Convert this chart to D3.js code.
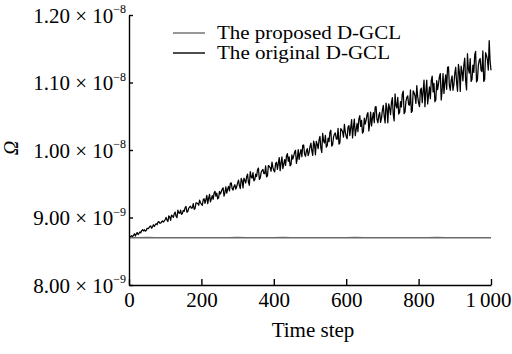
<!DOCTYPE html>
<html>
<head>
<meta charset="utf-8">
<script src="https://cdn.jsdelivr.net/npm/d3@7"></script>
<style>
  body { margin: 0; background: #fff; }
  svg text { font-family: "Liberation Serif", "DejaVu Serif", serif; fill: #000; }
</style>
</head>
<body>
<div id="chart"></div>
<script>
// DATA (values in units of 1e-9)
// original D-GCL, sampled at steps 0, 5, 10, ... 1000
const stepSize = 5
const originalValues = [
  8.700,
  8.721, 8.714, 8.759, 8.754, 8.748, 8.785, 8.806, 8.801, 8.798, 8.841, 8.848, 8.875, 8.862, 8.869, 8.909, 8.932, 8.917, 8.936, 8.933, 8.970,
  8.961, 9.024, 8.956, 9.023, 9.055, 9.018, 9.108, 9.062, 9.048, 9.107, 9.147, 9.078, 9.137, 9.168, 9.141, 9.122, 9.217, 9.207, 9.256, 9.197,
  9.263, 9.211, 9.328, 9.283, 9.231, 9.323, 9.362, 9.316, 9.277, 9.388, 9.381, 9.440, 9.368, 9.361, 9.460, 9.506, 9.427, 9.460, 9.421, 9.512,
  9.473, 9.580, 9.440, 9.555, 9.603, 9.522, 9.680, 9.582, 9.544, 9.643, 9.707, 9.566, 9.665, 9.712, 9.649, 9.602, 9.769, 9.739, 9.820, 9.697,
  9.801, 9.714, 9.887, 9.810, 9.724, 9.857, 9.910, 9.833, 9.766, 9.929, 9.912, 9.995, 9.878, 9.861, 10.005, 10.068, 9.941, 9.984, 9.917, 10.050,
  9.987, 10.132, 9.929, 10.086, 10.148, 10.029, 10.246, 10.103, 10.044, 10.177, 10.262, 10.059, 10.192, 10.253, 10.159, 10.088, 10.317, 10.270, 10.379, 10.200,
  10.341, 10.214, 10.451, 10.338, 10.212, 10.393, 10.462, 10.349, 10.250, 10.473, 10.444, 10.555, 10.386, 10.357, 10.553, 10.636, 10.453, 10.508, 10.409, 10.590,
  10.496, 10.696, 10.403, 10.620, 10.702, 10.528, 10.830, 10.622, 10.533, 10.716, 10.831, 10.538, 10.721, 10.802, 10.663, 10.557, 10.876, 10.804, 10.953, 10.694,
  10.889, 10.702, 11.035, 10.868, 10.682, 10.935, 11.028, 10.861, 10.714, 11.027, 10.980, 11.133, 10.886, 10.839, 11.113, 11.226, 10.959, 11.032, 10.885, 11.138,
  11.002, 11.268, 10.867, 11.156, 11.262, 11.022, 11.426, 11.140, 11.015, 11.258, 11.409, 11.008, 11.251, 11.356, 11.163, 11.015, 11.442, 11.340, 11.620, 11.182
]
// original D-GCL, in-between samples at steps 2.5, 7.5, ... 997.5
const originalMidValues = [
  8.703, 8.730, 8.737, 8.726, 8.777, 8.766, 8.773, 8.818, 8.819, 8.807, 8.834, 8.865, 8.842, 8.893, 8.892, 8.893, 8.938, 8.915, 8.948, 8.948,
  9.001, 8.941, 9.009, 9.035, 9.003, 9.079, 8.997, 9.069, 9.109, 9.060, 9.091, 9.163, 9.090, 9.157, 9.138, 9.206, 9.133, 9.214, 9.181, 9.218,
  9.179, 9.277, 9.270, 9.205, 9.342, 9.276, 9.270, 9.387, 9.361, 9.290, 9.349, 9.421, 9.316, 9.453, 9.421, 9.394, 9.512, 9.407, 9.486, 9.454,
  9.553, 9.429, 9.545, 9.583, 9.511, 9.643, 9.477, 9.601, 9.665, 9.560, 9.607, 9.731, 9.582, 9.697, 9.650, 9.766, 9.617, 9.758, 9.685, 9.742,
  9.675, 9.818, 9.801, 9.694, 9.897, 9.790, 9.773, 9.946, 9.899, 9.783, 9.866, 9.969, 9.802, 10.005, 9.948, 9.901, 10.074, 9.907, 10.020, 9.964,
  10.101, 9.922, 10.079, 10.128, 10.021, 10.202, 9.963, 10.132, 10.217, 10.063, 10.124, 10.293, 10.078, 10.235, 10.164, 10.321, 10.106, 10.299, 10.192, 10.266,
  10.167, 10.362, 10.333, 10.178, 10.457, 10.302, 10.273, 10.510, 10.439, 10.271, 10.382, 10.521, 10.282, 10.561, 10.476, 10.405, 10.642, 10.403, 10.556, 10.472,
  10.660, 10.401, 10.618, 10.682, 10.525, 10.776, 10.432, 10.666, 10.781, 10.557, 10.638, 10.872, 10.562, 10.779, 10.673, 10.890, 10.580, 10.848, 10.691, 10.790,
  10.643, 10.916, 10.869, 10.642, 11.035, 10.808, 10.761, 11.094, 10.987, 10.741, 10.894, 11.087, 10.740, 11.133, 11.006, 10.899, 11.232, 10.885, 11.098, 10.972,
  11.226, 10.871, 11.160, 11.242, 11.025, 11.360, 10.890, 11.202, 11.353, 11.045, 11.150, 11.462, 11.038, 11.327, 11.179, 11.468, 11.044, 11.402, 11.185, 11.314
]
// proposed D-GCL, sampled at steps 0, 25, ... 1000
const proposedStep = 25
const proposedValues = [
  8.70, 8.70, 8.702, 8.70, 8.70, 8.70, 8.701, 8.70, 8.70, 8.70, 8.70, 8.70, 8.702, 8.70, 8.70, 8.70, 8.70, 8.702, 8.70, 8.70, 8.70,
  8.701, 8.70, 8.70, 8.70, 8.702, 8.70, 8.70, 8.70, 8.701, 8.70, 8.70, 8.70, 8.70, 8.702, 8.70, 8.70, 8.701, 8.70, 8.70, 8.70
]
const xTicks = [0, 200, 400, 600, 800, 1000]
const xTickLabels = ["0", "200", "400", "600", "800", "1\u2009000"]
const yTicks = [8.0, 9.0, 10.0, 11.0, 12.0]
const yTickLabels = [["8.00", "−9"], ["9.00", "−9"], ["1.00", "−8"], ["1.10", "−8"], ["1.20", "−8"]]
const seriesNames = ["The proposed D-GCL", "The original D-GCL"]
const seriesColors = ["#6a6a6a", "#000000"]

const W = 512, H = 354
const margin = {top: 15, right: 21, bottom: 69, left: 129}
const width = W - margin.left - margin.right
const height = H - margin.top - margin.bottom

const svg = d3.select("#chart").append("svg")
    .attr("width", W)
    .attr("height", H)

const g = svg.append("g")
    .attr("transform", `translate(${margin.left},${margin.top})`)

// SCALES
const xScale = d3.scaleLinear().domain([0, 1000]).range([0, width])
const yScale = d3.scaleLinear().domain([8.0, 12.0]).range([height, 0])

// LINES
const line = d3.line()
    .x(d => xScale(d[0]))
    .y(d => yScale(d[1]))

const proposedData = proposedValues.map((v, i) => [i * proposedStep, v])
const originalData = originalValues.map((v, i) => [i * stepSize, v])
    .concat(originalMidValues.map((v, i) => [i * stepSize + stepSize / 2, v]))
    .sort((a, b) => a[0] - b[0])

g.append("path")
    .datum(originalData)
    .attr("d", line)
    .attr("fill", "none")
    .attr("stroke", seriesColors[1])
    .attr("stroke-width", 1.25)
    .attr("stroke-linejoin", "round")

g.append("path")
    .datum(proposedData)
    .attr("d", line)
    .attr("fill", "none")
    .attr("stroke", seriesColors[0])
    .attr("stroke-width", 1.6)

// AXES
const xAxis = d3.axisBottom(xScale)
    .tickValues(xTicks)
    .tickSizeInner(-6)
    .tickSizeOuter(0)
    .tickPadding(7)
    .tickFormat((d, i) => xTickLabels[i])

const yAxis = d3.axisLeft(yScale)
    .tickValues(yTicks)
    .tickSizeInner(-4)
    .tickSizeOuter(0)
    .tickFormat("")

const gx = g.append("g")
    .attr("transform", `translate(0,${height})`)
    .call(xAxis)
gx.selectAll("text")
    .attr("font-size", 21)
    .attr("font-family", "Liberation Serif")
    .attr("fill", "#000")
    .attr("dx", (d, i) => i === xTicks.length - 1 ? -3 : 0)

const gy = g.append("g").call(yAxis)
gy.selectAll(".tick text")
    .attr("font-size", 21)
    .attr("font-family", "Liberation Serif")
    .attr("fill", "#000")
    .attr("dy", "0.35em")
    .attr("x", -3)
    .each(function(d, i) {
        const t = d3.select(this)
        t.append("tspan").text(yTickLabels[i][0] + " × 10")
        t.append("tspan")
            .attr("font-size", 12)
            .attr("dy", "-0.8em")
            .text(yTickLabels[i][1])
    })

g.selectAll(".domain").attr("stroke", "#000").attr("stroke-width", 1.4)
g.selectAll(".tick line").attr("stroke", "#000").attr("stroke-width", 1.4)

// AXIS TITLES
svg.append("text")
    .attr("x", margin.left + xScale(500) + 3)
    .attr("y", 337)
    .attr("text-anchor", "middle")
    .attr("font-size", 21)
    .text("Time step")

svg.append("text")
    .attr("transform", `translate(18,${margin.top + yScale(10.0) - 2}) rotate(-90)`)
    .attr("text-anchor", "middle")
    .attr("font-size", 20)
    .attr("font-style", "italic")
    .text("Ω")

// LEGEND
const legend = svg.append("g")
    .attr("transform", "translate(173,33)")
seriesNames.forEach((name, i) => {
    const row = legend.append("g").attr("transform", `translate(0,${i * 20})`)
    row.append("line")
        .attr("x1", 0).attr("x2", 32)
        .attr("stroke", seriesColors[i])
        .attr("stroke-width", 1.4)
    row.append("text")
        .attr("x", 44)
        .attr("dy", "0.33em")
        .attr("font-size", 19)
        .attr("textLength", i === 0 ? 184 : 173)
        .attr("lengthAdjust", "spacingAndGlyphs")
        .text(name)
})
</script>
</body>
</html>
